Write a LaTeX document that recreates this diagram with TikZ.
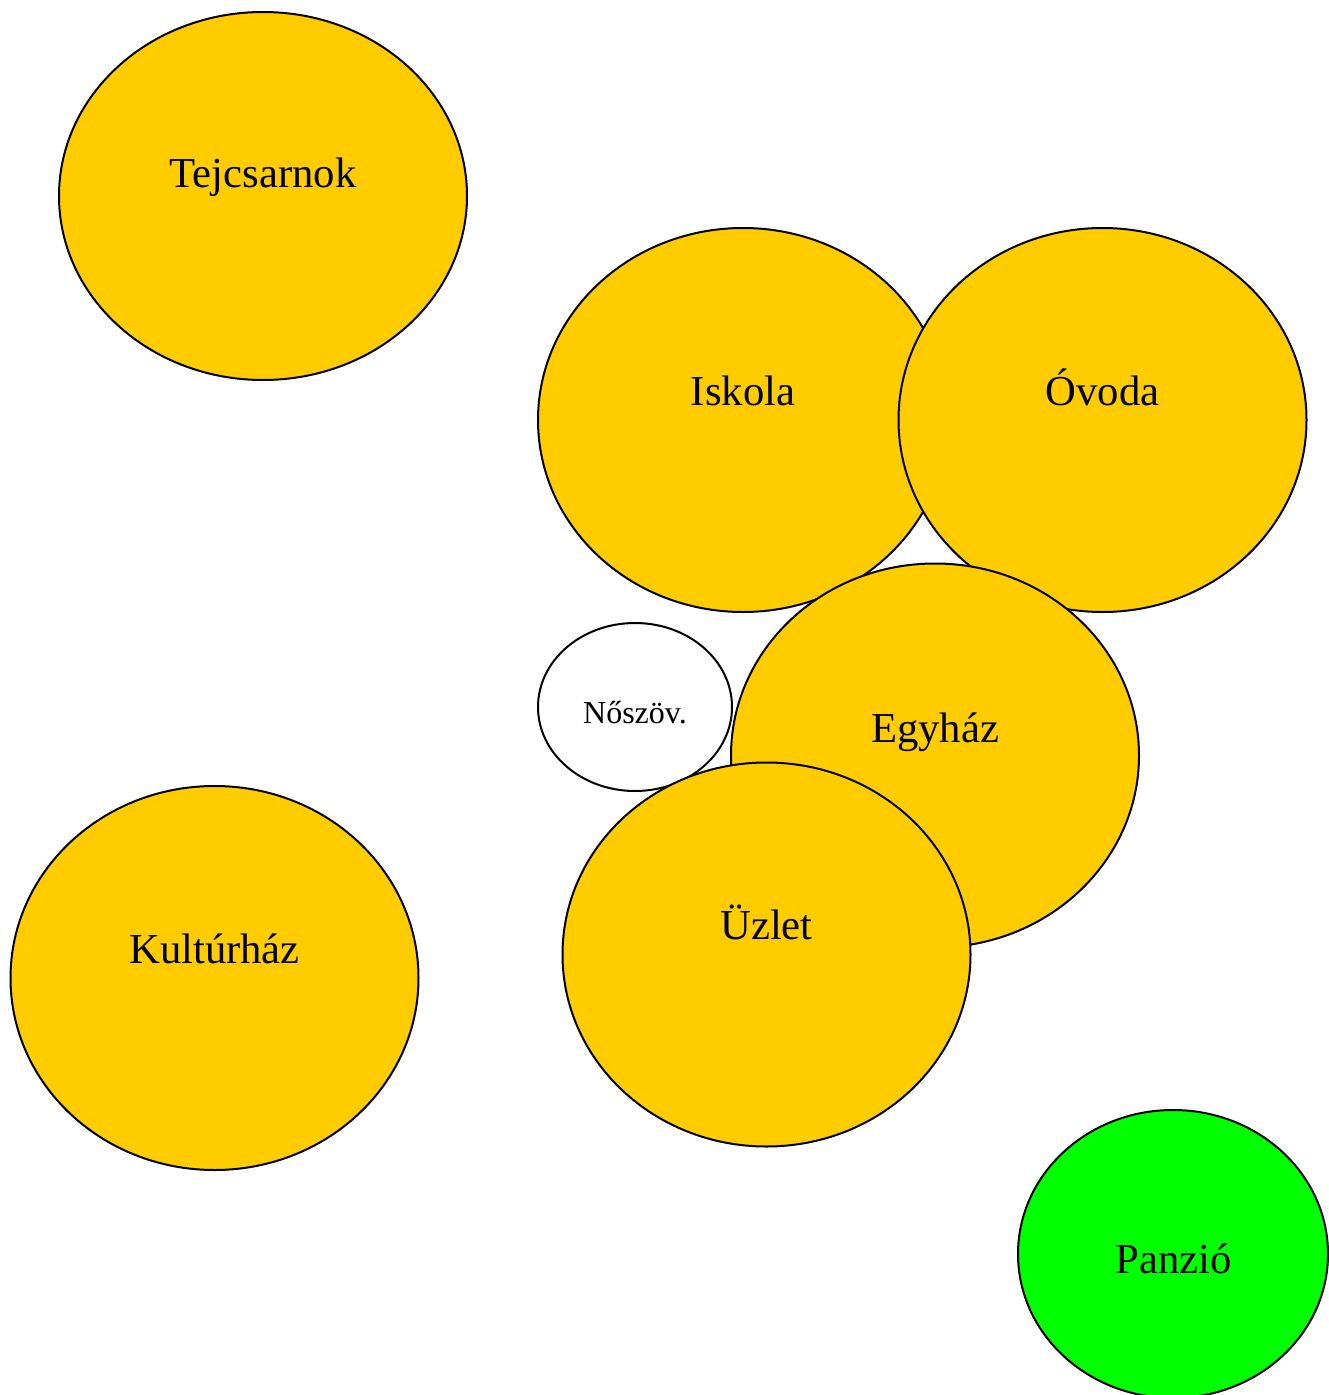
\documentclass[tikz,border=0pt]{standalone}
\usepackage{fontspec}
\setmainfont{Liberation Serif}
\usetikzlibrary{shapes.geometric}
\definecolor{placeyellow}{RGB}{255,204,0}
\definecolor{placegreen}{RGB}{0,255,0}
\tikzset{every picture/.style={line width=1.5pt}}
\tikzset{
  place/.style={ellipse, draw=black, fill=placeyellow, inner sep=0pt,
    minimum width=306pt, minimum height=288pt},
  placename/.style={anchor=base, inner sep=0pt, font=\fontsize{32}{38}\selectfont},
  smallname/.style={anchor=base, inner sep=0pt, font=\fontsize{24}{29}\selectfont}
}
\begin{document}
\begin{tikzpicture}[x=0.75pt,y=0.75pt,yscale=-1,xscale=1]
\useasboundingbox (0,0) rectangle (1328,1395);

% Tejcsarnok
\node[place, minimum height=276pt] (tejcsarnok) at (263,196) {};
\node[placename] (tejcsarnok-txt) at (263,187) {Tejcsarnok};
% Iskola
\node[place, minimum width=307.5pt] (iskola) at (743,420) {};
\node[placename] (iskola-txt) at (743,405) {Iskola};
% Ovoda
\node[place] (ovoda) at (1102.5,420) {};
\node[placename] (ovoda-txt) at (1102.5,405) {Óvoda};
% Noszov
\node[place, fill=white, minimum width=145.5pt, minimum height=126pt] (noszov) at (635,707) {};
\node[smallname] (noszov-txt) at (635,723) {Nőszöv.};
% Egyhaz
\node[place] (egyhaz) at (935,755.5) {};
\node[placename] (egyhaz-txt) at (935,742) {Egyház};
% Uzlet
\node[place] (uzlet) at (766.5,954.5) {};
\node[placename] (uzlet-txt) at (766.5,939) {Üzlet};
% Kulturhaz
\node[place] (kulturhaz) at (214.5,978) {};
\node[placename] (kulturhaz-txt) at (214.5,963) {Kultúrház};
% Panzio
\node[place, fill=placegreen, minimum width=232.5pt, minimum height=216pt] (panzio) at (1173,1254) {};
\node[placename] (panzio-txt) at (1174,1273) {Panzió};

\end{tikzpicture}
\end{document}
